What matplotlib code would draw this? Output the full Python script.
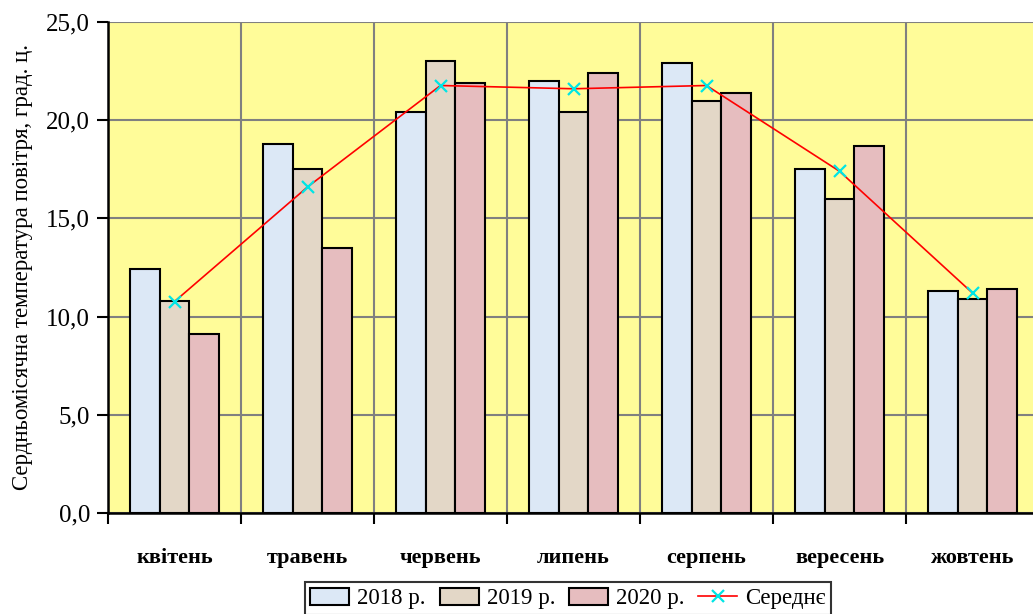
import numpy as np
import matplotlib.pyplot as plt
from matplotlib.ticker import FuncFormatter, FixedLocator

plt.rcParams['font.family'] = ['Liberation Serif', 'DejaVu Serif']

months = ['квітень', 'травень', 'червень', 'липень', 'серпень', 'вересень', 'жовтень']
t2018 = np.array([12.4, 18.8, 20.4, 22.0, 22.9, 17.5, 11.3])
t2019 = np.array([10.8, 17.5, 23.0, 20.4, 21.0, 16.0, 10.9])
t2020 = np.array([9.1, 13.5, 21.9, 22.4, 21.4, 18.7, 11.4])
mean = (t2018 + t2019 + t2020) / 3

fig = plt.figure(figsize=(10.33, 6.14), dpi=100)
ax = fig.add_axes([108 / 1033, 101 / 614, 931 / 1033, 491 / 614])
ax.set_facecolor('#FFFC99')

x = np.arange(len(months))
w = 0.222
kw = dict(edgecolor='black', linewidth=1.5, zorder=3)
b1 = ax.bar(x - w, t2018, w, color='#DCE8F6', label='2018 р.', **kw)
b2 = ax.bar(x, t2019, w, color='#E3D7C7', label='2019 р.', **kw)
b3 = ax.bar(x + w, t2020, w, color='#E6BDBF', label='2020 р.', **kw)
ln, = ax.plot(x, mean, color='red', lw=1.2, marker='x', ms=8, mew=1.6,
              mec='#00E5E5', label='Середнє', zorder=4)

ax.set_xlim(-0.5, len(months) - 0.5)
ax.set_ylim(0, 25)
ax.set_yticks(np.arange(0, 25.1, 5))
ax.yaxis.set_major_formatter(FuncFormatter(lambda v, p: f'{v:.1f}'.replace('.', ',')))
ax.set_xticks(x)
ax.set_xticklabels(months, fontsize=16, fontweight='bold')
ax.xaxis.set_minor_locator(FixedLocator(np.arange(-0.5, len(months), 1.0)))
ax.tick_params(axis='x', which='major', length=0, pad=25)
ax.tick_params(axis='x', which='minor', length=8, width=1.5, direction='out')
ax.tick_params(axis='y', length=8, width=1.5, direction='out', labelsize=18, pad=5)

ax.grid(axis='y', which='major', color='#808080', lw=1.5, zorder=0)
ax.grid(axis='x', which='minor', color='#808080', lw=1.5, zorder=0)
ax.set_axisbelow(True)
for s in ['top', 'right']:
    ax.spines[s].set_visible(False)
for s in ['left', 'bottom']:
    ax.spines[s].set_linewidth(1.8)

ax.set_ylabel('Сердньомісячна температура повітря, град. ц.', fontsize=16.5)
ax.yaxis.set_label_coords(-75 / 931, 0.5)

leg = fig.legend(handles=[b1, b2, b3, ln], loc='upper center',
                 bbox_to_anchor=(568 / 1033, 1 - 582 / 614), ncol=4,
                 fontsize=16.5, frameon=True, fancybox=False, edgecolor='black',
                 handlelength=1.7, handleheight=0.8, handletextpad=0.35,
                 columnspacing=0.6, borderpad=0.25, borderaxespad=0)
leg.get_frame().set_linewidth(1.5)

fig.savefig('out.png', dpi=100)
